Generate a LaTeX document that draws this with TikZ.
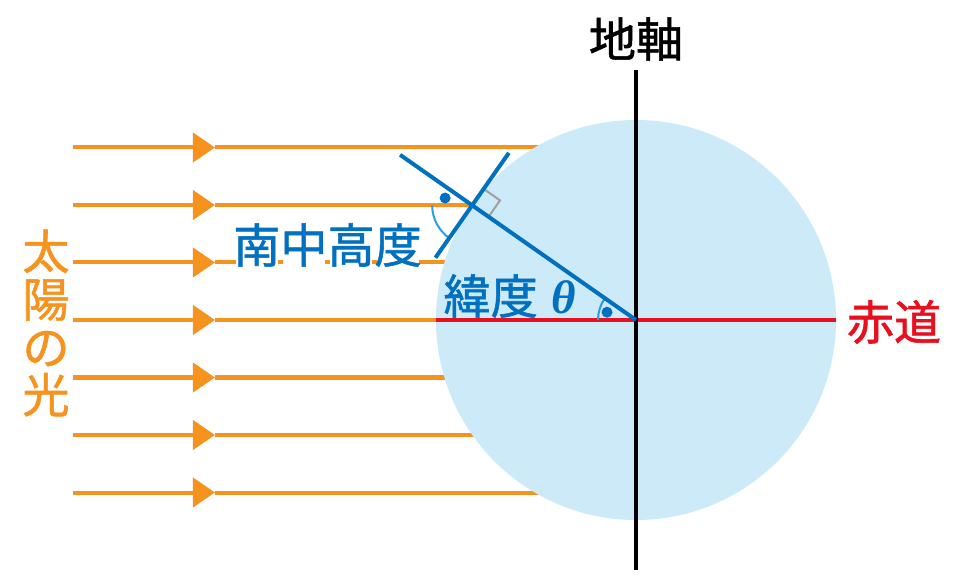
\documentclass[tikz,border=0pt]{standalone}
\usepackage{fontspec}
\setmainfont{Noto Sans CJK JP}[FakeBold=1.2]
\newfontfamily\thetafont{Liberation Serif}
\usetikzlibrary{arrows.meta,calc}
\definecolor{O}{RGB}{246,146,30}
\definecolor{Bl}{RGB}{0,112,192}
\definecolor{Sky}{RGB}{204,234,248}
\definecolor{R}{RGB}{232,16,30}
\definecolor{Ac}{RGB}{40,160,220}
\definecolor{Gr}{RGB}{160,160,160}

\begin{document}
\begin{tikzpicture}[x=0.025cm,y=0.025cm,
  ray/.style={O, line width=0.1cm},
  thick line/.style={line width=0.1cm},
  lbl/.style={font=\fontsize{33.5}{34}\selectfont, inner sep=0pt}]
  \useasboundingbox (0,0) rectangle (960,580);
  \coordinate (C) at (636,260);
  \coordinate (P) at ($(C)+(145:200)$);

	%# RAYOS DEL SOL
  \foreach \k in {-3,...,3}{
    \draw[ray] (215,260+57.5*\k) -- (636,260+57.5*\k);
    \draw[ray, -{Triangle[length=0.55cm,width=0.725cm]}] (73,260+57.5*\k) -- (215,260+57.5*\k);
  }

	%# TIERRA
  \fill[Sky] (C) circle (200);
  \draw[R, thick line] ($(C)+(-200,0)$) -- ($(C)+(200,0)$);
  \draw[black, thick line] (636,10) -- (636,510);

	%# ANGULOS
  \draw[Gr, line width=0.05cm] ($(P)+(-35:20)$) -- ($(P)+(-35:20)+(55:20)$) -- ($(P)+(55:20)$);
  \draw[Ac, line width=0.05cm] ($(P)+(180:40)$) arc[start angle=180, end angle=235, radius=40];
  \draw[Ac, line width=0.05cm] ($(C)+(180:38)$) arc[start angle=180, end angle=145, radius=38];
  \fill[Bl] ($(P)+(165:28)$) circle (5.5);
  \fill[Bl] ($(C)+(165:30)$) circle (5.5);

	%# LATITUD Y HORIZONTE
  \draw[Bl, thick line] (C) -- ($(C)+(145:288)$);
  \draw[Bl, thick line] ($(P)+(55:64)$) -- ($(P)+(235:64)$);

	%# TEXTOS
  \node[lbl] (axis) at (636,541) {地軸};
  \node[lbl, R] (eq) at (894,258) {赤道};
  \node[lbl, Bl] (lat) at (510,284) {緯度\hspace{0.3em}{\thetafont\bfseries\itshape θ}};
  \node[lbl, O, align=center] (sun) at (46,257) {太\\陽\\の\\光};
  %# HUECOS BLANCOS BAJO EL TEXTO
  \coordinate (altW) at (233,335);
  \foreach \i in {0,...,3}
    \fill[white] ($(altW)+(\i*47.1+2.5,-22)$) rectangle ($(altW)+(\i*47.1+44.6,-14)$);
  \node[lbl, Bl, anchor=west] (alt) at (altW) {南中高度};
\end{tikzpicture}
\end{document}
